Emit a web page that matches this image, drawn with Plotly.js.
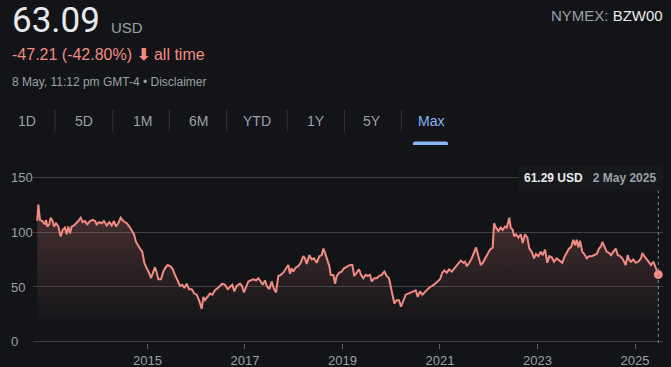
<!DOCTYPE html>
<html><head><meta charset="utf-8">
<script src="https://cdn.plot.ly/plotly-3.0.1.min.js"></script>
<style>html,body{margin:0;padding:0;background:#131418;}#chart{width:671px;height:367px;}</style>
</head><body><div id="chart"></div>
<script>
// ---- data (decimal year, price in USD) ----
const years = [2012.742,2012.763,2012.798,2012.845,2012.900,2012.921,2012.947,2012.988,2013.017,2013.058,2013.085,2013.126,2013.173,2013.222,2013.263,2013.310,2013.345,2013.378,2013.413,2013.448,2013.495,2013.550,2013.583,2013.632,2013.673,2013.720,2013.768,2013.823,2013.878,2013.926,2013.960,2014.014,2014.063,2014.110,2014.165,2014.219,2014.268,2014.315,2014.356,2014.403,2014.453,2014.506,2014.576,2014.629,2014.678,2014.725,2014.766,2014.801,2014.848,2014.896,2014.937,2014.986,2015.033,2015.074,2015.121,2015.156,2015.191,2015.224,2015.279,2015.326,2015.376,2015.417,2015.464,2015.511,2015.566,2015.622,2015.669,2015.716,2015.757,2015.806,2015.853,2015.909,2015.962,2016.011,2016.058,2016.114,2016.147,2016.182,2016.237,2016.284,2016.331,2016.387,2016.442,2016.489,2016.536,2016.592,2016.647,2016.694,2016.741,2016.782,2016.832,2016.899,2016.940,2016.981,2017.022,2017.070,2017.119,2017.172,2017.228,2017.275,2017.324,2017.365,2017.412,2017.447,2017.500,2017.549,2017.597,2017.638,2017.685,2017.734,2017.787,2017.843,2017.890,2017.925,2017.960,2017.992,2018.048,2018.095,2018.144,2018.198,2018.232,2018.267,2018.321,2018.370,2018.417,2018.472,2018.526,2018.575,2018.608,2018.643,2018.690,2018.731,2018.760,2018.813,2018.848,2018.883,2018.936,2018.985,2019.032,2019.100,2019.155,2019.203,2019.243,2019.293,2019.340,2019.381,2019.428,2019.477,2019.518,2019.566,2019.600,2019.654,2019.703,2019.750,2019.805,2019.859,2019.908,2019.955,2019.996,2020.031,2020.064,2020.113,2020.160,2020.201,2020.248,2020.298,2020.351,2020.406,2020.454,2020.503,2020.544,2020.591,2020.638,2020.694,2020.749,2020.796,2020.843,2020.899,2020.954,2021.001,2021.048,2021.089,2021.139,2021.186,2021.241,2021.295,2021.329,2021.376,2021.426,2021.479,2021.514,2021.549,2021.602,2021.651,2021.698,2021.739,2021.787,2021.836,2021.877,2021.924,2021.971,2022.027,2022.082,2022.109,2022.149,2022.197,2022.246,2022.287,2022.334,2022.369,2022.422,2022.451,2022.492,2022.519,2022.560,2022.607,2022.656,2022.697,2022.744,2022.792,2022.833,2022.882,2022.929,2022.970,2023.017,2023.066,2023.107,2023.155,2023.202,2023.243,2023.292,2023.339,2023.395,2023.448,2023.509,2023.550,2023.600,2023.647,2023.688,2023.735,2023.770,2023.805,2023.838,2023.872,2023.920,2023.961,2024.010,2024.057,2024.112,2024.166,2024.215,2024.262,2024.303,2024.330,2024.371,2024.420,2024.467,2024.508,2024.555,2024.605,2024.646,2024.693,2024.740,2024.781,2024.810,2024.851,2024.877,2024.918,2024.966,2025.015,2025.068,2025.123,2025.150,2025.191,2025.241,2025.288,2025.329,2025.376,2025.411,2025.446,2025.478];
const prices = [110,125,111,110,107,111,105,107,113,110,105,108,105,96,102,104,98,105,99,105,106,108,110,113,109,110,107,110,111,110,107,109,108,110,106,109,106,110,105,108,113,110,108,105,102,98,91,88,85,82,72,67,63,58,64,68,63,57,57,64,68,70,69,67,61,55,51,52,49,53,48,48,44,43,38,30,41,38,41,44,43,47,49,51,53,52,48,50,52,46,51,53,51,45,49,55,56,57,56,58,55,52,56,51,48,55,48,45,60,61,63,67,70,62,67,64,68,69,72,78,76,71,79,75,76,72,78,79,85,81,75,69,61,61,53,60,63,64,67,69,70,70,60,63,66,61,58,61,60,61,55,58,58,60,61,64,60,58,49,43,35,38,38,32,37,43,44,45,46,47,41,46,43,46,48,50,51,53,55,57,63,65,63,66,64,67,69,72,74,72,73,69,72,76,81,86,78,70,72,76,80,84,86,108,104,101,104,102,105,104,113,104,102,96,98,95,98,90,98,95,85,82,76,80,78,82,79,84,72,78,77,73,76,74,72,77,81,85,86,93,88,93,86,92,82,80,76,78,78,79,80,85,87,91,86,82,81,79,82,85,79,78,76,72,70,79,75,73,75,72,73,76,81,78,75,73,70,73,68,65,61.29];
const xTickVals = [2015, 2017, 2019, 2021, 2023, 2025];
const yTickVals = [0, 50, 100, 150];
const rangeButtons = ['1D','5D','1M','6M','YTD','1Y','5Y','Max'];
const currentPrice = '63.09';
const changeText = '-47.21 (-42.80%)';
const hoverDate = '2 May 2025';

// ---- layout helpers ----
const W = 671, H = 367, ML = 10, MR = 8, MT = 176, MB = 24;
const PW = W - ML - MR, PH = H - MT - MB;
const px = x => (x - ML) / PW;
const py = y => (H - MB - y) / PH;

const C_BG = '#131418', C_GRID = '#3c4043', C_TXT = '#9aa0a6', C_WHITE = '#e8eaed', C_RED = '#f28b82', C_BLUE = '#8ab4f8';
const FONT = 'Liberation Sans, Arial, sans-serif';

const lastX = years[years.length - 1], lastY = prices[prices.length - 1];

const traces = [
  {x: years, y: prices, type: 'scatter', mode: 'lines',
   line: {color: C_RED, width: 2},
   fill: 'tozeroy',
   fillgradient: {type: 'vertical', start: 15, stop: 125,
     colorscale: [[0, 'rgba(242,139,130,0)'], [1, 'rgba(242,139,130,0.24)']]}},
  {x: [lastX], y: [lastY], type: 'scatter', mode: 'markers',
   marker: {color: C_RED, size: 9}}
];

const btnCenters = [26.7, 84, 142, 198, 257, 316, 372, 431];
const sepX = [55, 112.7, 169.3, 226.7, 287.3, 344.5, 401.4];

const annotations = [
  {text: currentPrice, x: px(10), y: py(21), xanchor: 'left', yanchor: 'middle', font: {family: 'Roboto, sans-serif', size: 35, color: C_WHITE}},
  {text: 'USD', x: px(109), y: py(27), xanchor: 'left', yanchor: 'middle', font: {family: FONT, size: 15, color: C_TXT}},
  {text: changeText + ' <b>⬇</b> all time', x: px(10), y: py(55), xanchor: 'left', yanchor: 'middle', font: {family: FONT, size: 16, color: C_RED}},
  {text: '8 May, 11:12 pm GMT-4 • Disclaimer', x: px(10), y: py(82), xanchor: 'left', yanchor: 'middle', font: {family: FONT, size: 12, color: C_TXT}},
  {text: 'NYMEX: <span style="color:' + C_WHITE + '">BZW00</span>', x: px(665), y: py(15), xanchor: 'right', yanchor: 'middle', font: {family: FONT, size: 15, color: C_TXT}},
  {text: '<b>' + lastY.toFixed(2) + ' USD</b>   <b><span style="color:' + C_TXT + '">' + hoverDate + '</span></b>',
   x: px(662), y: py(178), xanchor: 'right', yanchor: 'middle', bgcolor: '#17181c', borderpad: 5,
   font: {family: FONT, size: 12, color: C_WHITE}}
];
rangeButtons.forEach((b, i) => annotations.push({
  text: b, x: px(btnCenters[i]), y: py(121), xanchor: 'center', yanchor: 'middle',
  font: {family: FONT, size: 14, color: b === 'Max' ? C_BLUE : C_TXT}}));
annotations.forEach(a => { a.xref = 'paper'; a.yref = 'paper'; a.showarrow = false; });

const shapes = sepX.map(x => ({type: 'line', xref: 'paper', yref: 'paper', x0: px(x), x1: px(x), y0: py(110), y1: py(132), line: {color: '#2e3034', width: 1}}));
const ux0 = px(413), ux1 = px(448), uy0 = py(145), uy1 = py(141.5), r = px(415) - px(413);
shapes.push({type: 'path', xref: 'paper', yref: 'paper',
  path: `M${ux0},${uy0} L${ux0},${py(143)} Q${ux0},${uy1} ${ux0 + r},${uy1} L${ux1 - r},${uy1} Q${ux1},${uy1} ${ux1},${py(143)} L${ux1},${uy0} Z`,
  fillcolor: C_BLUE, line: {width: 0}});
shapes.push({type: 'line', xref: 'x', yref: 'paper', x0: lastX, x1: lastX, y0: 0, y1: py(190), line: {color: '#80868b', width: 1, dash: 'dot'}});

const layout = {
  width: W, height: H, paper_bgcolor: C_BG, plot_bgcolor: C_BG,
  margin: {l: ML, r: MR, t: MT, b: MB},
  showlegend: false, hovermode: false,
  font: {family: FONT, color: C_TXT},
  xaxis: {domain: [px(33), 1], range: [2012.654, 2025.574], showgrid: false, zeroline: false, showline: false,
    tickvals: xTickVals, ticktext: xTickVals.map(String), ticks: 'outside', ticklen: 5, tickcolor: '#5f6368',
    tickfont: {size: 13, color: C_TXT}},
  yaxis: {range: [-1, 151], anchor: 'free', position: 0, side: 'right', tickvals: yTickVals,
    showgrid: true, gridcolor: C_GRID, gridwidth: 1, zeroline: false, showline: false, ticks: '',
    tickfont: {size: 13, color: C_TXT}},
  annotations: annotations, shapes: shapes
};

Plotly.newPlot('chart', traces, layout, {displayModeBar: false, staticPlot: true});
</script></body></html>
